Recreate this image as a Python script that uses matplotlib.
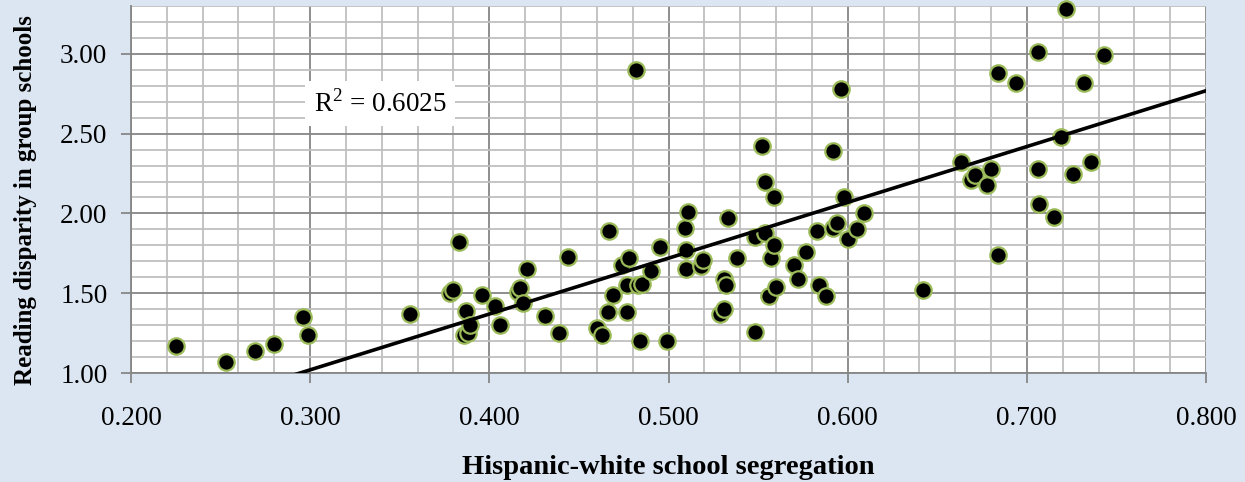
import numpy as np
import matplotlib
matplotlib.use('Agg')
import matplotlib.pyplot as plt
from matplotlib.ticker import MultipleLocator, FormatStrFormatter

# segregation index (x) and reading disparity (y)
seg = [0.225, 0.253, 0.269, 0.280, 0.296, 0.299, 0.356, 0.378, 0.380, 0.383,
       0.386, 0.388, 0.387, 0.389, 0.396, 0.403, 0.406, 0.416, 0.417, 0.419,
       0.421, 0.431, 0.439, 0.444, 0.460, 0.463, 0.466, 0.467, 0.469, 0.474,
       0.477, 0.478, 0.477, 0.482, 0.483, 0.485, 0.484, 0.490, 0.495, 0.499,
       0.509, 0.510, 0.510, 0.511, 0.518, 0.519, 0.529, 0.531, 0.531, 0.532,
       0.533, 0.538, 0.548, 0.548, 0.552, 0.554, 0.554, 0.556, 0.557, 0.559,
       0.559, 0.560, 0.570, 0.572, 0.577, 0.583, 0.584, 0.588, 0.592, 0.592,
       0.594, 0.596, 0.598, 0.600, 0.605, 0.609, 0.642, 0.663, 0.669, 0.671,
       0.678, 0.680, 0.684, 0.684, 0.694, 0.706, 0.706, 0.707, 0.715, 0.719,
       0.722, 0.726, 0.732, 0.736, 0.743]
disp = [1.17, 1.07, 1.14, 1.18, 1.35, 1.24, 1.37, 1.50, 1.52, 1.82,
        1.24, 1.25, 1.39, 1.30, 1.49, 1.42, 1.30, 1.51, 1.53, 1.44,
        1.65, 1.36, 1.25, 1.73, 1.28, 1.24, 1.38, 1.89, 1.49, 1.68,
        1.55, 1.72, 1.38, 2.90, 1.55, 1.56, 1.20, 1.64, 1.79, 1.20,
        1.91, 1.77, 1.65, 2.01, 1.67, 1.71, 1.37, 1.40, 1.59, 1.55,
        1.97, 1.72, 1.85, 1.26, 2.42, 1.88, 2.20, 1.48, 1.72, 2.10,
        1.80, 1.54, 1.68, 1.59, 1.76, 1.89, 1.55, 1.48, 1.91, 2.39,
        1.94, 2.78, 2.10, 1.84, 1.90, 2.00, 1.52, 2.32, 2.21, 2.24,
        2.18, 2.28, 2.88, 1.74, 2.82, 3.01, 2.28, 2.06, 1.98, 2.48,
        3.28, 2.25, 2.82, 2.32, 2.99]
# trendline as drawn in the picture (the fit on the full data)
trend_slope = 3.498
trend_icept = -0.0295
r2_label = 'R$^2$ = 0.6025'

x = np.array(seg)
y = np.array(disp)

bg = '#dce6f2'
plt.rcParams['font.family'] = ['Liberation Serif', 'DejaVu Serif']
plt.rcParams['mathtext.fontset'] = 'custom'
plt.rcParams['mathtext.rm'] = 'Liberation Serif'

fig = plt.figure(figsize=(12.45, 4.82), dpi=100, facecolor=bg)
ax = fig.add_axes([0.1052, 0.2261, 0.8635, 0.7615])
ax.set_facecolor('white')

ax.set_xlim(0.2, 0.8)
ax.set_ylim(1.0, 3.3)
ax.xaxis.set_major_locator(MultipleLocator(0.1))
ax.xaxis.set_minor_locator(MultipleLocator(0.02))
ax.yaxis.set_major_locator(MultipleLocator(0.5))
ax.yaxis.set_minor_locator(MultipleLocator(0.1))
ax.xaxis.set_major_formatter(FormatStrFormatter('%.3f'))
ax.yaxis.set_major_formatter(FormatStrFormatter('%.2f'))

ax.grid(which='minor', color='#bfbfbf', lw=1.3, zorder=0)
ax.grid(which='major', color='#868686', lw=1.3, zorder=0)
ax.set_axisbelow(True)
for s in ['top', 'right']:
    ax.spines[s].set_visible(False)
for s in ['left', 'bottom']:
    ax.spines[s].set_color('#868686')
    ax.spines[s].set_linewidth(1.3)
ax.tick_params(which='major', direction='out', length=7, width=1.3,
               color='#868686', labelsize=19.5)
ax.tick_params(axis='x', pad=17)
ax.tick_params(axis='y', pad=10)
ax.tick_params(which='minor', length=0)

ax.scatter(x, y, s=140, c='black', edgecolors='#9bbb59', linewidths=1.6,
           zorder=3, clip_on=False)

xl = np.array([0.2, 0.8])
ax.plot(xl, trend_slope * xl + trend_icept, color='black', lw=2.6, zorder=4)

ax.text(0.339, 2.69, r2_label, fontsize=19.5, ha='center', va='center',
        bbox=dict(facecolor='white', edgecolor='none', pad=6), zorder=5)

ax.set_xlabel('Hispanic-white school segregation', fontsize=20.5,
              fontweight='bold', labelpad=17)
ax.set_ylabel('Reading disparity in group schools', fontsize=18,
              fontweight='bold')
ax.yaxis.set_label_coords(-0.087, 0.47)

fig.savefig('out.png', dpi=100, facecolor=bg)
